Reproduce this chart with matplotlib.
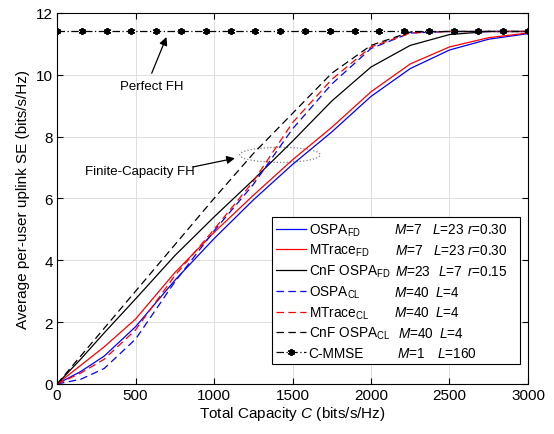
import matplotlib
matplotlib.use('Agg')
import matplotlib.pyplot as plt
from matplotlib.patches import Ellipse

plt.rcParams['font.family'] = ['Liberation Sans', 'DejaVu Sans']
plt.rcParams['mathtext.fontset'] = 'custom'
plt.rcParams['mathtext.rm'] = 'Liberation Sans'
plt.rcParams['mathtext.it'] = 'Liberation Sans:italic'

# total capacity grid (bits/s/Hz)
cap = [0, 150, 300, 500, 750, 1000, 1250, 1500, 1750, 2000, 2250, 2500, 2750, 3000]

# per-user uplink SE
ospa_fd = [0, 0.40, 0.90, 1.85, 3.35, 4.70, 5.95, 7.10, 8.15, 9.30, 10.20, 10.80, 11.15, 11.33]
mtrace_fd = [0, 0.60, 1.20, 2.10, 3.60, 4.90, 6.10, 7.25, 8.30, 9.45, 10.35, 10.90, 11.20, 11.35]
cnf_fd = [0, 0.80, 1.65, 2.75, 4.15, 5.40, 6.60, 7.85, 9.15, 10.25, 10.95, 11.30, 11.40, 11.40]
ospa_cl = [0, 0.15, 0.50, 1.45, 3.30, 4.95, 6.45, 8.25, 9.70, 10.85, 11.35, 11.40, 11.40, 11.40]
mtrace_cl = [0, 0.35, 0.80, 1.75, 3.50, 5.00, 6.55, 8.45, 9.85, 10.90, 11.35, 11.40, 11.40, 11.40]
cnf_cl = [0, 0.90, 1.80, 3.00, 4.50, 6.00, 7.45, 8.75, 10.05, 10.95, 11.38, 11.40, 11.40, 11.40]

# centralized MMSE (perfect fronthaul)
cmmse_cap = [0, 158, 316, 474, 632, 789, 947, 1105, 1263, 1421,
             1579, 1737, 1895, 2053, 2211, 2368, 2526, 2684, 2842, 3000]
cmmse_se = [11.4, 11.4, 11.4, 11.4, 11.4, 11.4, 11.4, 11.4, 11.4, 11.4,
            11.4, 11.4, 11.4, 11.4, 11.4, 11.4, 11.4, 11.4, 11.4, 11.4]

names = [r'OSPA$_{\rm FD}$', r'MTrace$_{\rm FD}$', r'CnF OSPA$_{\rm FD}$',
         r'OSPA$_{\rm CL}$', r'MTrace$_{\rm CL}$', r'CnF OSPA$_{\rm CL}$', 'C-MMSE']
params = [
    [(394, r'$M$=7'), (432, r'$L$=23'), (467, r'$r$=0.30')],
    [(395, r'$M$=7'), (433, r'$L$=23'), (467, r'$r$=0.30')],
    [(395, r'$M$=23'), (438, r'$L$=7'), (467, r'$r$=0.15')],
    [(394, r'$M$=40'), (435, r'$L$=4')],
    [(394, r'$M$=40'), (435, r'$L$=4')],
    [(398, r'$M$=40'), (439, r'$L$=4')],
    [(397, r'$M$=1'), (437, r'$L$=160')],
]

W, H = 554, 435
fig = plt.figure(figsize=(W / 100, H / 100), dpi=100)
ax = fig.add_axes([0.103, 0.115, 0.850, 0.853])

lw = 0.9
dash = (0, (6, 3.5))
ax.plot(cap, ospa_fd, color='#0000ff', lw=lw, label=names[0])
ax.plot(cap, mtrace_fd, color='#ff0000', lw=lw, label=names[1])
ax.plot(cap, cnf_fd, color='black', lw=lw, label=names[2])
ax.plot(cap, ospa_cl, color='#0000ff', lw=lw, ls=dash, label=names[3])
ax.plot(cap, mtrace_cl, color='#ff0000', lw=lw, ls=dash, label=names[4])
ax.plot(cap, cnf_cl, color='black', lw=lw, ls=dash, label=names[5])
ax.plot(cmmse_cap, cmmse_se, color='black', lw=lw, ls=(0, (6, 2, 1, 2)),
        marker=(6, 2, 0), ms=5, mew=1.3, label=names[6])

ax.set_xlim(0, 3000)
ax.set_ylim(0, 12)
ax.set_xticks([0, 500, 1000, 1500, 2000, 2500, 3000])
ax.set_yticks([0, 2, 4, 6, 8, 10, 12])
ax.grid(True, color='#dedede', lw=0.7)
ax.set_axisbelow(True)
ax.tick_params(direction='in', top=True, right=True, labelsize=11, length=4, pad=3)
for s in ax.spines.values():
    s.set_linewidth(0.8)

ax.set_xlabel(r'Total Capacity $C$ (bits/s/Hz)', fontsize=11, labelpad=1)
ax.set_ylabel('Average per-user uplink SE (bits/s/Hz)', fontsize=11, labelpad=4)

leg = ax.legend(loc='lower left', bbox_to_anchor=(0.456, 0.054, 0.527, 0.38),
                mode='expand', fontsize=9.8, frameon=True, fancybox=False,
                edgecolor='black', framealpha=1, handlelength=2.2,
                handletextpad=0.2, labelspacing=0.32, borderpad=0.3,
                borderaxespad=0)
leg.get_frame().set_linewidth(0.8)

# annotations
ax.text(604, 9.65, 'Perfect FH', fontsize=9.5, ha='center', va='center')
ax.annotate('', xy=(697, 11.22), xytext=(603, 10.05),
            arrowprops=dict(arrowstyle='-|>', color='black', lw=0.9,
                            mutation_scale=12, shrinkA=0, shrinkB=0))
ax.text(530, 6.9, 'Finite-Capacity FH', fontsize=9.5, ha='center', va='center')
ax.annotate('', xy=(1133, 7.3), xytext=(867, 7.02),
            arrowprops=dict(arrowstyle='-|>', color='black', lw=0.9,
                            mutation_scale=12, shrinkA=0, shrinkB=0))
ax.add_patch(Ellipse((1420, 7.41), 514, 0.49, fill=False, ls=':',
                     edgecolor='#808080', lw=0.9))

# parameter columns next to the legend entries
fig.canvas.draw()
for txt, row in zip(leg.get_texts(), params):
    yb = txt.get_transform().transform(txt.get_position())[1]
    for xp, s in row:
        fig.text(xp / W, yb / H, s, fontsize=9.8, ha='left', va='baseline')

fig.savefig('out.png', dpi=100)
